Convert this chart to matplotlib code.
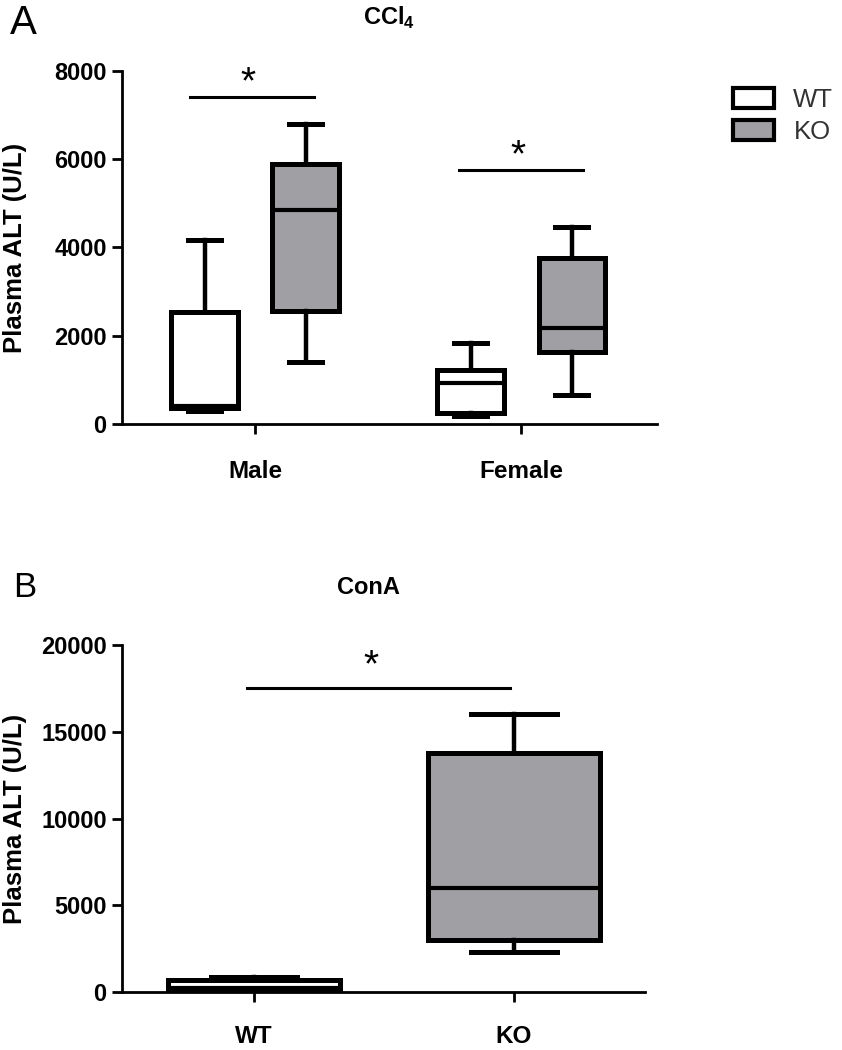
"""Plasma ALT box plots: CCl4 (by sex) and ConA, WT vs KO."""

import matplotlib.pyplot as plt
from matplotlib.patches import Patch

plt.rcParams["font.family"] = ["Liberation Sans", "DejaVu Sans"]
plt.rcParams["mathtext.fontset"] = "custom"
plt.rcParams["mathtext.rm"] = "Liberation Sans"
plt.rcParams["mathtext.bf"] = "Liberation Sans:bold"

# ---------------------------------------------------------------------------
# Data (five-number summaries: whislo, q1, med, q3, whishi)
# ---------------------------------------------------------------------------
sex_labels = ["Male", "Female"]
ccl4_wt = [[300, 360, 400, 2530, 4180],
           [190, 250, 930, 1225, 1835]]
ccl4_ko = [[1410, 2560, 4850, 5890, 6800],
           [660, 1630, 2175, 3760, 4470]]

cona_labels = ["WT", "KO"]
cona_wt = [60, 100, 250, 700, 860]
cona_ko = [2300, 3000, 5990, 13780, 16020]

# significance bars: (x0, x1, y)
sig_a = [(0.756, 1.222, 7410), (1.767, 2.233, 5755)]
sig_b = [(0.973, 1.985, 17520)]

GREY = "#a09fa4"
BOX_LW = 3.6
AX_LW = 2.0


def stats(vals):
    lo, q1, med, q3, hi = vals
    return dict(whislo=lo, q1=q1, med=med, q3=q3, whishi=hi, fliers=[])


def draw_boxes(ax, data, positions, width, face):
    ax.bxp(
        [stats(v) for v in data], positions=positions, widths=width,
        capwidths=width / 2, patch_artist=True, showfliers=False,
        boxprops=dict(facecolor=face, edgecolor="black", linewidth=BOX_LW),
        whiskerprops=dict(color="black", linewidth=3.2),
        capprops=dict(color="black", linewidth=3.6),
        medianprops=dict(color="black", linewidth=3.0),
        manage_ticks=False,
    )


def style_axes(ax, xpad):
    for side in ("top", "right"):
        ax.spines[side].set_visible(False)
    for side in ("left", "bottom"):
        ax.spines[side].set_linewidth(AX_LW)
    ax.tick_params(axis="y", width=AX_LW, length=7, pad=4, labelsize=17)
    ax.tick_params(axis="x", width=AX_LW, length=7, pad=xpad, labelsize=17.5)
    for lab in ax.get_xticklabels() + ax.get_yticklabels():
        lab.set_fontweight("bold")


def draw_sig(ax, bars, star_dy):
    for x0, x1, y in bars:
        ax.plot([x0, x1], [y, y], color="black", lw=2.2, clip_on=False)
        ax.text((x0 + x1) / 2 - (x1 - x0) * 0.03, y + star_dy, "*",
                ha="center", va="center", fontsize=28, clip_on=False)


fig = plt.figure(figsize=(8.42, 10.5), dpi=100)

# ---- Panel A ---------------------------------------------------------------
ax1 = fig.add_axes([0.1449, 0.5962, 0.6354, 0.3362])
pos = [1, 2]
draw_boxes(ax1, ccl4_wt, [p - 0.19 for p in pos], 0.25, "white")
draw_boxes(ax1, ccl4_ko, [p + 0.19 for p in pos], 0.25, GREY)
ax1.set_xlim(0.5, 2.51)
ax1.set_ylim(0, 8000)
ax1.set_yticks([0, 2000, 4000, 6000, 8000])
ax1.set_xticks(pos)
ax1.set_xticklabels(sex_labels)
style_axes(ax1, 19)
ax1.set_ylabel("Plasma ALT (U/L)", fontsize=18.5, fontweight="bold")
ax1.yaxis.set_label_coords(-0.178, 0.5)
draw_sig(ax1, sig_a, 320)

# ---- Panel B ---------------------------------------------------------------
ax2 = fig.add_axes([0.1449, 0.0552, 0.6211, 0.3305])
draw_boxes(ax2, [cona_wt], [1], 0.66, "white")
draw_boxes(ax2, [cona_ko], [2], 0.66, GREY)
ax2.set_xlim(0.492, 2.504)
ax2.set_ylim(0, 20000)
ax2.set_yticks([0, 5000, 10000, 15000, 20000])
ax2.set_xticks([1, 2])
ax2.set_xticklabels(cona_labels)
style_axes(ax2, 17)
ax2.set_ylabel("Plasma ALT (U/L)", fontsize=18.5, fontweight="bold")
ax2.yaxis.set_label_coords(-0.182, 0.5)
draw_sig(ax2, sig_b, 1250)

# ---- Titles, panel letters, legend ----------------------------------------
fig.text(0.4626, 1 - 18 / 1050, r"CCl$_\mathbf{4}$", ha="center", va="center",
         fontsize=17, fontweight="bold")
fig.text(0.4371, 1 - 587 / 1050, "ConA", ha="center", va="center",
         fontsize=17, fontweight="bold")
fig.text(10 / 842, 1 - 34 / 1050, "A", fontsize=29, ha="left", va="baseline")
fig.text(13 / 842, 1 - 597 / 1050, "B", fontsize=25, ha="left", va="baseline")

handles = [
    Patch(facecolor="white", edgecolor="black", linewidth=3.0, label="WT"),
    Patch(facecolor=GREY, edgecolor="black", linewidth=3.0, label="KO"),
]
fig.legend(handles=handles, loc="upper left",
           bbox_to_anchor=(733 / 842, 1 - 88 / 1050), frameon=False,
           fontsize=18.5, handlelength=1.6, handleheight=0.85,
           handletextpad=0.75, labelspacing=0.3, borderpad=0,
           borderaxespad=0, labelcolor="#333333")

fig.savefig("out.png", dpi=100)
